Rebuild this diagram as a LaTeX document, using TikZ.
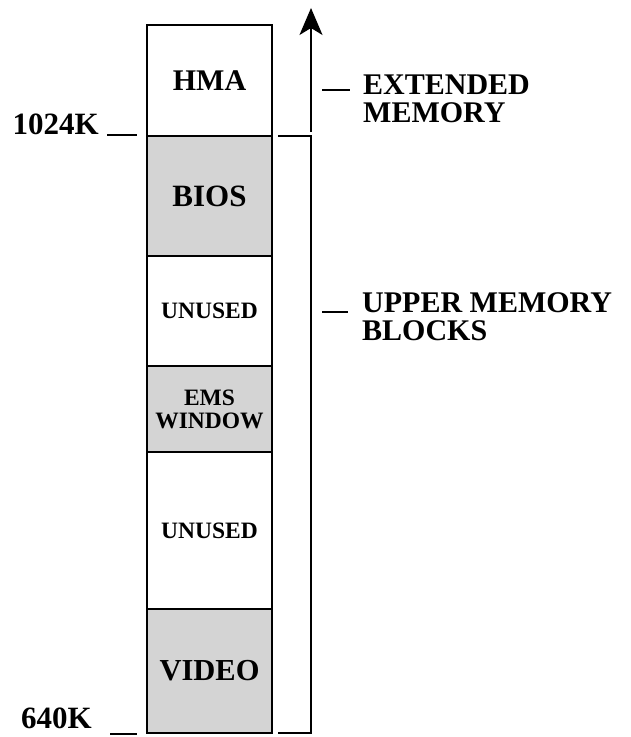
\documentclass[tikz,border=0pt]{standalone}
\usepackage{fontspec}
\setmainfont{Liberation Serif}
\usetikzlibrary{positioning, arrows.meta}

\tikzset{
    blk/.style={draw, line width=1.6pt, minimum width=125pt, inner sep=0pt, outer sep=0pt,
        align=center, font=\bfseries\fontsize{23.5}{23}\selectfont},
    dotfill/.style={fill=black!17},
    big/.style={font=\bfseries\fontsize{31}{31}\selectfont, inner sep=1pt},
    side/.style={font=\bfseries\fontsize{30}{28}\selectfont, align=left, inner sep=0pt},
    tick/.style={line width=1.6pt}
}

\begin{document}
\begin{tikzpicture}[x=1pt, y=1pt]
    \useasboundingbox (0,0) rectangle (631,737);
    \node[blk, dotfill, minimum height=124pt, font=\bfseries\fontsize{30.5}{30}\selectfont] (video) at (209.5,66) {VIDEO};
    \node[blk, minimum height=157pt, above=0pt of video] (unusedb) {UNUSED};
    \node[blk, dotfill, minimum height=86pt, above=0pt of unusedb] (ems) {EMS\\WINDOW};
    \node[blk, minimum height=110pt, above=0pt of ems] (unuseda) {UNUSED};
    \node[blk, dotfill, minimum height=120pt, above=0pt of unuseda, font=\bfseries\fontsize{31}{31}\selectfont] (bios) {BIOS};
    \node[blk, minimum height=111pt, above=0pt of bios, font=\bfseries\fontsize{30}{30}\selectfont] (hma) {HMA};
    \coordinate (bra) at ([xshift=6pt]bios.north east);
    \coordinate (brb) at ([xshift=39pt]bios.north east);
    \coordinate (brc) at ([xshift=39pt]video.south east);
    \coordinate (brd) at ([xshift=6pt]video.south east);
    \draw[tick] (bra) -- (brb) -- (brc) -- (brd);
    \coordinate (arbot) at ([yshift=4pt]brb);
    \coordinate (artop) at ([yshift=128pt]brb);
    \draw[line width=1.4pt, -{Stealth[length=27pt, width=23pt, inset=7pt]}] (arbot) -- (artop);
    \node[big, anchor=base east] (k1024) at (100,602) {1024K};
    \draw[tick] ([xshift=7pt]k1024.base east) -- ++(30pt,0);
    \node[big, anchor=base east] (k640) at (93,9) {640K};
    \draw[tick] ([xshift=17pt, yshift=-6pt]k640.base east) -- ++(27pt,0);
    \node[side, anchor=base west] (ext) at (363,614) {EXTENDED\\MEMORY};
    \draw[tick] ([xshift=-41pt, yshift=33pt]ext.base west) -- ++(28pt,0);
    \node[side, anchor=base west] (umb) at (362,396) {UPPER MEMORY\\BLOCKS};
    \draw[tick] ([xshift=-40pt, yshift=29pt]umb.base west) -- ++(26pt,0);
\end{tikzpicture}
\end{document}
